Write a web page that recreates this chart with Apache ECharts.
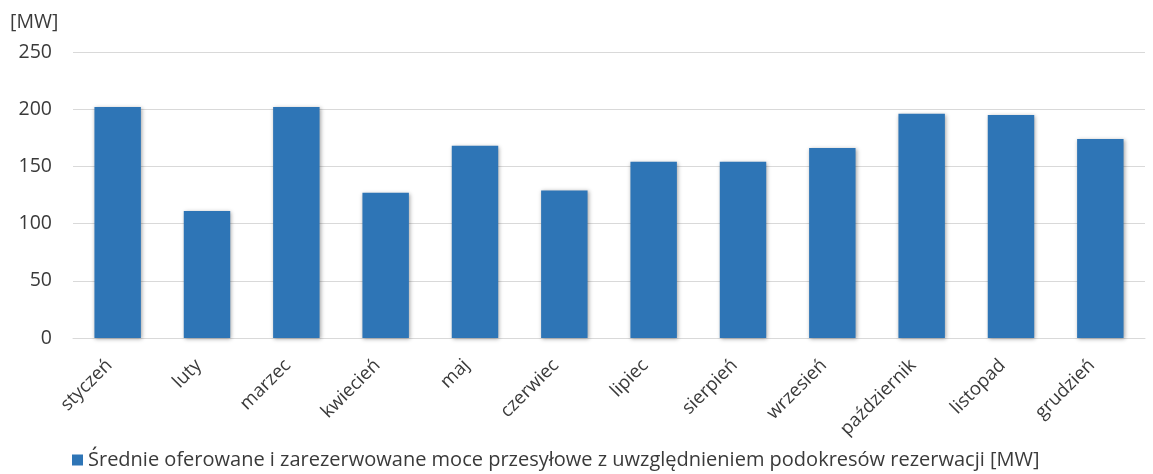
<!DOCTYPE html>
<html>
<head>
<meta charset="utf-8">
<script src="https://cdn.jsdelivr.net/npm/echarts@6.0.0/dist/echarts.min.js"></script>
<style>
  html, body { margin: 0; padding: 0; background: #fff; }
  #chart { width: 1153px; height: 474px; }
</style>
</head>
<body>
<div id="chart"></div>
<script>
// months and average offered/reserved capacity [MW]
const months = ['styczeń', 'luty', 'marzec', 'kwiecień', 'maj', 'czerwiec',
  'lipiec', 'sierpień', 'wrzesień', 'październik', 'listopad', 'grudzień'];
const capacity = [202, 111, 202, 127, 168, 129, 154, 154, 166, 196, 195, 174];
const seriesName = 'Średnie oferowane i zarezerwowane moce przesyłowe z uwzględnieniem podokresów rezerwacji [MW]';
const unitLabel = '[MW]';

const font = '"Open Sans", sans-serif';
const textColor = '#3a3a3a';

const chart = echarts.init(document.getElementById('chart'));
chart.setOption({
  animation: false,
  textStyle: { fontFamily: font },
  grid: { left: 73, right: 8, top: 52, bottom: 136 },
  legend: {
    data: [seriesName],
    left: 67,
    bottom: -1,
    icon: 'rect',
    itemWidth: 11,
    itemHeight: 11,
    itemGap: 5,
    textStyle: { fontSize: 20, color: textColor, fontFamily: font }
  },
  xAxis: {
    type: 'category',
    data: months,
    axisTick: { show: false },
    axisLine: { lineStyle: { color: '#d9d9d9', width: 1 } },
    axisLabel: {
      rotate: 45,
      interval: 0,
      margin: 16,
      padding: [0, 12, 0, 0],
      fontSize: 18.5,
      color: textColor,
      fontFamily: font
    }
  },
  yAxis: {
    type: 'value',
    name: unitLabel,
    nameLocation: 'end',
    nameGap: 20,
    nameTextStyle: { fontSize: 19.5, color: textColor, align: 'left', padding: [0, 0, 0, -63] },
    min: 0,
    max: 250,
    interval: 50,
    axisLine: { show: false },
    axisTick: { show: false },
    splitLine: { lineStyle: { color: '#d9d9d9', width: 1 } },
    axisLabel: { fontSize: 19.5, color: textColor, margin: 21, fontFamily: font }
  },
  series: [{
    name: seriesName,
    type: 'bar',
    data: capacity,
    barCategoryGap: '48%',
    itemStyle: {
      color: '#2e75b6',
      shadowColor: 'rgba(0,0,0,0.35)',
      shadowBlur: 4,
      shadowOffsetX: 1,
      shadowOffsetY: 1
    }
  }]
});
</script>
</body>
</html>
